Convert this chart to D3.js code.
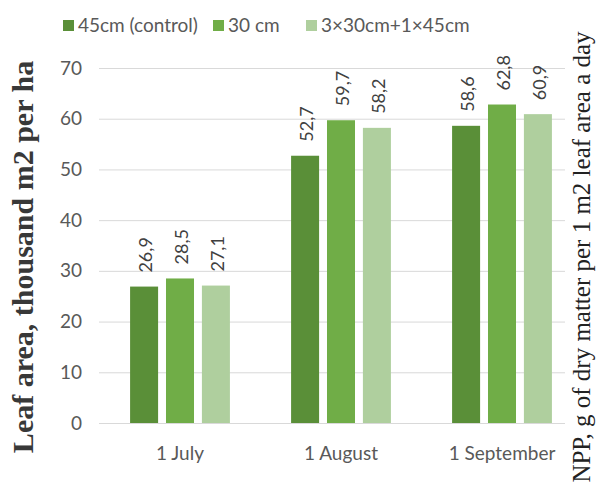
<!DOCTYPE html>
<html>
<head>
<meta charset="utf-8">
<script src="https://cdn.jsdelivr.net/npm/d3@7"></script>
<style>
  body { margin: 0; background: #fff; }
  svg { display: block; }
  .tick text { fill: #595959; }
</style>
</head>
<body>
<svg id="chart"></svg>
<script>
const categories = ['1 July', '1 August', '1 September']
const seriesNames = ['45cm (control)', '30 cm', '3×30cm+1×45cm']
const control45 = [26.9, 52.7, 58.6]
const rows30 = [28.5, 59.7, 62.8]
const mixed = [27.1, 58.2, 60.9]
const yTicks = [0, 10, 20, 30, 40, 50, 60, 70]

const colors = ['#5a8f38', '#70ad47', '#afcf9e']
const series = [control45, rows30, mixed]

const W = 598
const H = 486
const font = 'Lato, "Open Sans", sans-serif'

const svg = d3.select('#chart')
  .attr('width', W)
  .attr('height', H)

const y = d3.scaleLinear().domain([0, 70]).range([423, 68])
const x0 = d3.scaleBand().domain(categories).range([99.5, 582.5])
  .paddingInner(0.38).paddingOuter(0.19)
const x1 = d3.scaleBand().domain(d3.range(series.length))
  .range([0, x0.bandwidth()]).paddingInner(0.22)

// gridlines + y tick labels
const yAxis = svg.append('g')
  .attr('transform', 'translate(99,0)')
  .call(d3.axisLeft(y).tickValues(yTicks).tickSizeInner(-466).tickSizeOuter(0).tickPadding(17))
yAxis.select('.domain').remove()
yAxis.selectAll('line').attr('stroke', '#d9d9d9')
yAxis.selectAll('text')
  .style('font-family', font)
  .style('font-size', '19px')

// bars
const groups = svg.append('g').selectAll('g')
  .data(categories)
  .join('g')
  .attr('transform', d => `translate(${x0(d)},0)`)

groups.selectAll('rect')
  .data((d, i) => series.map((s, k) => ({ k, v: s[i] })))
  .join('rect')
  .attr('x', d => x1(d.k))
  .attr('width', x1.bandwidth())
  .attr('y', d => y(d.v))
  .attr('height', d => y(0) - y(d.v))
  .attr('fill', d => colors[d.k])

// value labels, rotated
groups.selectAll('text')
  .data((d, i) => series.map((s, k) => ({ k, v: s[i] })))
  .join('text')
  .attr('transform', d => `translate(${x1(d.k) + x1.bandwidth() / 2 + 2},${y(d.v) - 14}) rotate(-90)`)
  .attr('dy', '0.35em')
  .attr('text-anchor', 'start')
  .style('font-family', font)
  .style('font-size', '18px')
  .attr('fill', '#404040')
  .text(d => d3.format('.1f')(d.v).replace('.', ','))

// category labels
svg.append('g').selectAll('text')
  .data(categories)
  .join('text')
  .attr('x', d => x0(d) + x0.bandwidth() / 2)
  .attr('y', 460)
  .attr('text-anchor', 'middle')
  .style('font-family', font)
  .style('font-size', '19px')
  .attr('fill', '#595959')
  .text(d => d)

// legend
const legendX = [63, 213, 306]
const legend = svg.append('g').selectAll('g')
  .data(seriesNames)
  .join('g')
  .attr('transform', (d, i) => `translate(${legendX[i]},20)`)
legend.append('rect')
  .attr('width', 11).attr('height', 11)
  .attr('fill', (d, i) => colors[i])
legend.append('text')
  .attr('x', 15).attr('y', 5.5).attr('dy', '0.35em')
  .style('font-family', font)
  .style('font-size', '19px')
  .attr('fill', '#595959')
  .text(d => d)

// axis titles
svg.append('text')
  .attr('transform', 'translate(33,257) rotate(-90)')
  .attr('text-anchor', 'middle')
  .style('font-family', '"Liberation Serif", "Times New Roman", serif')
  .style('font-weight', 'bold')
  .style('font-size', '30px')
  .attr('fill', '#383838')
  .text('Leaf area, thousand m2 per ha')

svg.append('text')
  .attr('transform', 'translate(590,257) rotate(-90)')
  .attr('text-anchor', 'middle')
  .style('font-family', '"Liberation Serif", "Times New Roman", serif')
  .style('font-size', '25px')
  .attr('fill', '#222')
  .text('NPP, g of dry matter per 1 m2 leaf area a day')
</script>
</body>
</html>
